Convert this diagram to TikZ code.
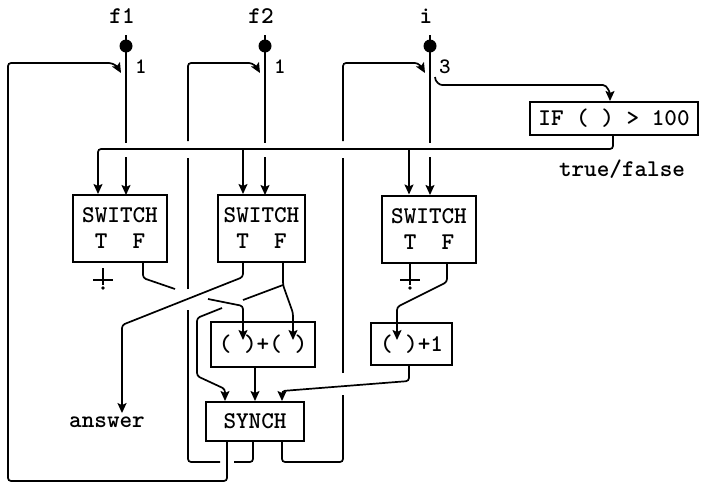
\documentclass[tikz,border=0pt]{standalone}
\usetikzlibrary{arrows.meta}
\tikzstyle{wire} = [line width=1.7pt, rounded corners=3pt]
\tikzstyle{arr} = [wire, -{Stealth[length=10pt,width=9pt,inset=2pt]}]
\tikzstyle{opbox} = [draw, line width=2pt, inner sep=0pt, font=\ttfamily\bfseries\fontsize{24}{26}\selectfont]
\tikzstyle{swbox} = [opbox, align=center, minimum height=67pt]
\tikzstyle{lbl} = [font=\ttfamily\bfseries\fontsize{24}{26}\selectfont]
\tikzstyle{numlbl} = [font=\ttfamily\bfseries\fontsize{22}{24}\selectfont]
\newcommand{\inport}[4]{
    \node(lbl#1) at (#2-4,16) [lbl] {#3};
    \coordinate (#1) at (#2,46);
    \fill (#1) circle (6.5pt);
    \draw[wire] (#2,35) -- (#1) -- (#2,143);
    \node at (#2+15,67) [numlbl] {#4};
    \draw[arr] (#2,157) -- (#2,195);
}
\newcommand{\groundsym}[2]{
    \draw[wire] (#1,#2) -- (#1,285);
    \draw[wire] (#1-10,280) -- (#1+10,280);
    \fill (#1,288) circle (1.8pt);
}
\begin{document}
\begin{tikzpicture}[x=1pt,y=-1pt]
    \useasboundingbox (0,0) rectangle (701,485);

    \node(sw1) at (120,228.5) [swbox, minimum width=94pt] {SWITCH\\T\ \ F};
    \node(sw2) at (261.5,228.5) [swbox, minimum width=87pt] {SWITCH\\T\ \ F};
    \node(sw3) at (429,229) [swbox, minimum width=94pt] {SWITCH\\T\ \ F};
    \node(iftest) at (614,118.5) [opbox, minimum width=168pt, minimum height=33pt] {IF ( ) > 100};
    \node(addtwo) at (263,344.5) [opbox, minimum width=104pt, minimum height=45pt] {(\ )+(\ )};
    \node(addone) at (411.5,344) [opbox, minimum width=81pt, minimum height=42pt] {(\ )+1\hspace{8pt}};
    \node(synch) at (255,421.5) [opbox, minimum width=98pt, minimum height=39pt] {SYNCH};
    \node(tf) at (622,169) [lbl] {true/false};
    \node(answer) at (107,422) [lbl] {answer};

    \inport{f1}{126}{f1}{1}
    \inport{f2}{265}{f2}{1}
    \inport{ii}{430}{i}{3}

    \draw[arr] (435,77) to[out=-90,in=180] (445,85) -- (600,85) to[out=0,in=90] (iftest.north -| 610,0);
    \draw[arr] (iftest.south -| 613,0) |- (98,149) -- (sw1.north -| 98,0);
    \draw[arr] (243,149) -- (sw2.north -| 243,0);
    \draw[arr] (409,149) -- (sw3.north -| 409,0);

    \groundsym{103}{268}
    \draw[wire] (sw1.south -| 143,0) -- (143,278) -- (175,289);
    \draw[arr] (208,299) -- (243,306) -- (243,340);
    \draw[arr] (sw2.south -| 243,0) -- (243,277) -- (122,325) -- (answer.north -| 122,0);
    \draw[arr] (sw2.south -| 283,0) -- (283,285) -- (293,313) -- (293,340);
    \draw[wire] (283,285) -- (243,300);
    \draw[arr] (222,308) -- (197,318) -- (197,376) -- (225,389) -- (synch.north -| 225,0);
    \groundsym{410}{263}
    \draw[arr] (sw3.south -| 447,0) -- (447,282) -- (397,307) -- (397,340);
    \draw[arr] (addtwo.south -| 255,0) -- (synch.north -| 255,0);
    \draw[arr] (addone.south -| 409,0) -- (409,381) -- (282,391) -- (synch.north -| 282,0);

    \draw[arr] (synch.south -| 227,0) -- (227,481) -- (8,481) -- (8,63) -- (106,63) to[out=0,in=120] (121,73);
    \draw[wire] (synch.south -| 253,0) -- (253,462) -- (234,462);
    \draw[wire] (220,462) -- (188,462) -- (188,310);
    \draw[wire] (188,289) -- (188,158);
    \draw[arr] (188,141) -- (188,63) -- (246,63) to[out=0,in=120] (260,73);
    \draw[wire] (synch.south -| 282,0) -- (282,462) -- (343,462) -- (343,395);
    \draw[wire] (343,373) -- (343,158);
    \draw[arr] (343,141) -- (343,63) -- (412,63) to[out=0,in=120] (425,73);
\end{tikzpicture}
\end{document}
